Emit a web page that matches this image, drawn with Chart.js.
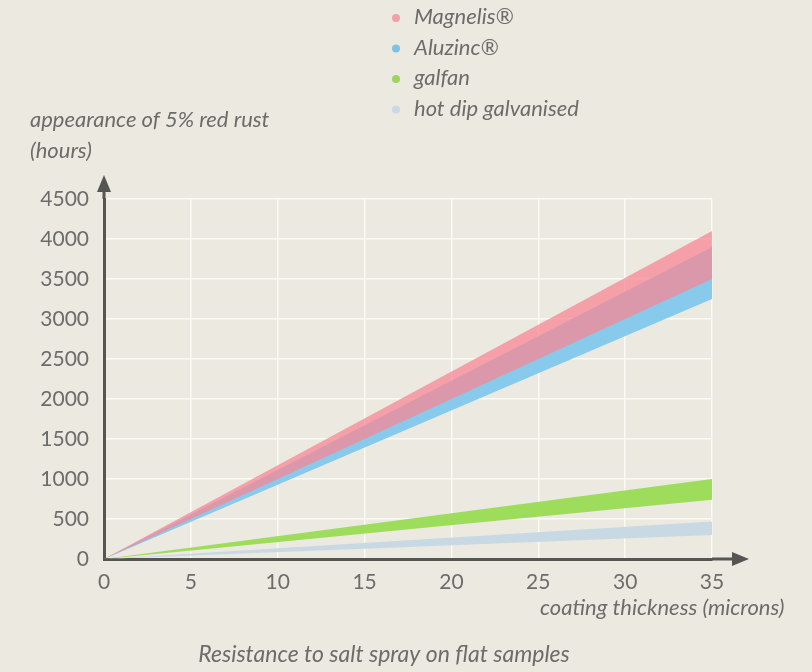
<!DOCTYPE html>
<html>
<head>
<meta charset="utf-8">
<script src="https://cdn.jsdelivr.net/npm/chart.js@4"></script>
<style>
  html, body { margin: 0; background: #ece9e0; }
  #wrap { width: 812px; height: 672px; }
</style>
</head>
<body>
<div id="wrap"><canvas id="saltSpray"></canvas></div>
<script>
// coating thickness (microns)
const thickness = [0, 35];
const seriesNames = ['Magnelis®', 'Aluzinc®', 'galfan', 'hot dip galvanised'];
// hours until 5% red rust, lower / upper edge of each band
const magnelisLow = [0, 3500];
const magnelisHigh = [0, 4100];
const aluzincLow = [0, 3250];
const aluzincHigh = [0, 3900];
const galfanLow = [0, 740];
const galfanHigh = [0, 1000];
const hdgLow = [0, 300];
const hdgHigh = [0, 470];
const xTicks = [0, 5, 10, 15, 20, 25, 30, 35];
const yTicks = [0, 500, 1000, 1500, 2000, 2500, 3000, 3500, 4000, 4500];
const yTitle = ['appearance of 5% red rust', '(hours)'];
const xTitle = 'coating thickness (microns)';
const caption = 'Resistance to salt spray on flat samples';

const dotColors = ['#f3a0aa', '#7ec3e6', '#9cd45c', '#c9d9e3'];
const bandColors = ['rgba(248,135,150,0.75)', 'rgb(136,202,235)', 'rgb(158,220,92)', 'rgb(200,217,228)'];

const pts = arr => thickness.map((t, i) => ({ x: t, y: arr[i] }));

const bands = [
  [magnelisLow, magnelisHigh],
  [aluzincLow, aluzincHigh],
  [galfanLow, galfanHigh],
  [hdgLow, hdgHigh]
];

const datasets = [];
bands.forEach((b, i) => {
  datasets.push({ label: seriesNames[i] + ' low', data: pts(b[0]), borderWidth: 0, pointRadius: 0, fill: false });
  datasets.push({ label: seriesNames[i], data: pts(b[1]), borderWidth: 0, pointRadius: 0,
    backgroundColor: bandColors[i], fill: '-1' });
});

const textColor = '#6c6c6a';

const decor = {
  id: 'decor',
  afterDraw(chart) {
    const c = chart.ctx;
    const a = chart.chartArea;
    const x0 = chart.scales.x.getPixelForValue(0);
    const y0 = chart.scales.y.getPixelForValue(0);
    c.save();
    c.strokeStyle = '#555553';
    c.fillStyle = '#555553';
    c.lineWidth = 3;
    // y arrow
    c.beginPath(); c.moveTo(x0, a.top); c.lineTo(x0, 188); c.stroke();
    c.beginPath(); c.moveTo(x0, 175); c.lineTo(x0 - 7, 192); c.lineTo(x0 + 7, 192); c.closePath(); c.fill();
    // x arrow
    c.beginPath(); c.moveTo(a.right, y0); c.lineTo(735, y0); c.stroke();
    c.beginPath(); c.moveTo(749, y0); c.lineTo(732, y0 - 7); c.lineTo(732, y0 + 7); c.closePath(); c.fill();

    c.fillStyle = textColor;
    c.font = 'italic 22px Lato';
    c.textBaseline = 'middle';
    c.textAlign = 'left';
    c.fillText(yTitle[0], 30, 120);
    c.fillText(yTitle[1], 30, 151);
    c.fillText(xTitle, 540, 608);
    c.font = 'italic 23px Lato';
    c.textAlign = 'center';
    c.fillText(caption, 384, 655);

    // legend
    c.textAlign = 'left';
    c.font = 'italic 22px Lato';
    seriesNames.forEach((n, i) => {
      const y = 17 + i * 30.5;
      c.fillStyle = dotColors[i];
      c.beginPath(); c.arc(396, y + 1, 4, 0, Math.PI * 2); c.fill();
      c.fillStyle = textColor;
      c.fillText(n, 414, y);
    });
    c.restore();
  }
};

new Chart(document.getElementById('saltSpray'), {
  type: 'line',
  data: { datasets: datasets },
  plugins: [decor],
  options: {
    responsive: true,
    maintainAspectRatio: false,
    animation: false,
    layout: { padding: { top: 199, right: 100, left: 0, bottom: 0 } },
    plugins: { legend: { display: false }, tooltip: { enabled: false } },
    scales: {
      x: {
        type: 'linear',
        min: 0,
        max: 35,
        afterBuildTicks: s => { s.ticks = xTicks.map(v => ({ value: v })); },
        afterFit: s => { s.height = 113; },
        grid: { color: '#fbfaf5', lineWidth: 1.5, drawTicks: false },
        border: { color: '#555553', width: 3 },
        ticks: { color: textColor, font: { size: 21, family: 'Lato' }, padding: 11, maxRotation: 0,
          callback: v => String(v) }
      },
      y: {
        min: 0,
        max: 4500,
        afterBuildTicks: s => { s.ticks = yTicks.map(v => ({ value: v })); },
        afterFit: s => { s.width = 104; },
        grid: { color: '#fbfaf5', lineWidth: 1.5, drawTicks: false },
        border: { color: '#555553', width: 3 },
        ticks: { color: textColor, font: { size: 21, family: 'Lato' }, padding: 15,
          callback: v => String(v) }
      }
    }
  }
});
</script>
</body>
</html>
